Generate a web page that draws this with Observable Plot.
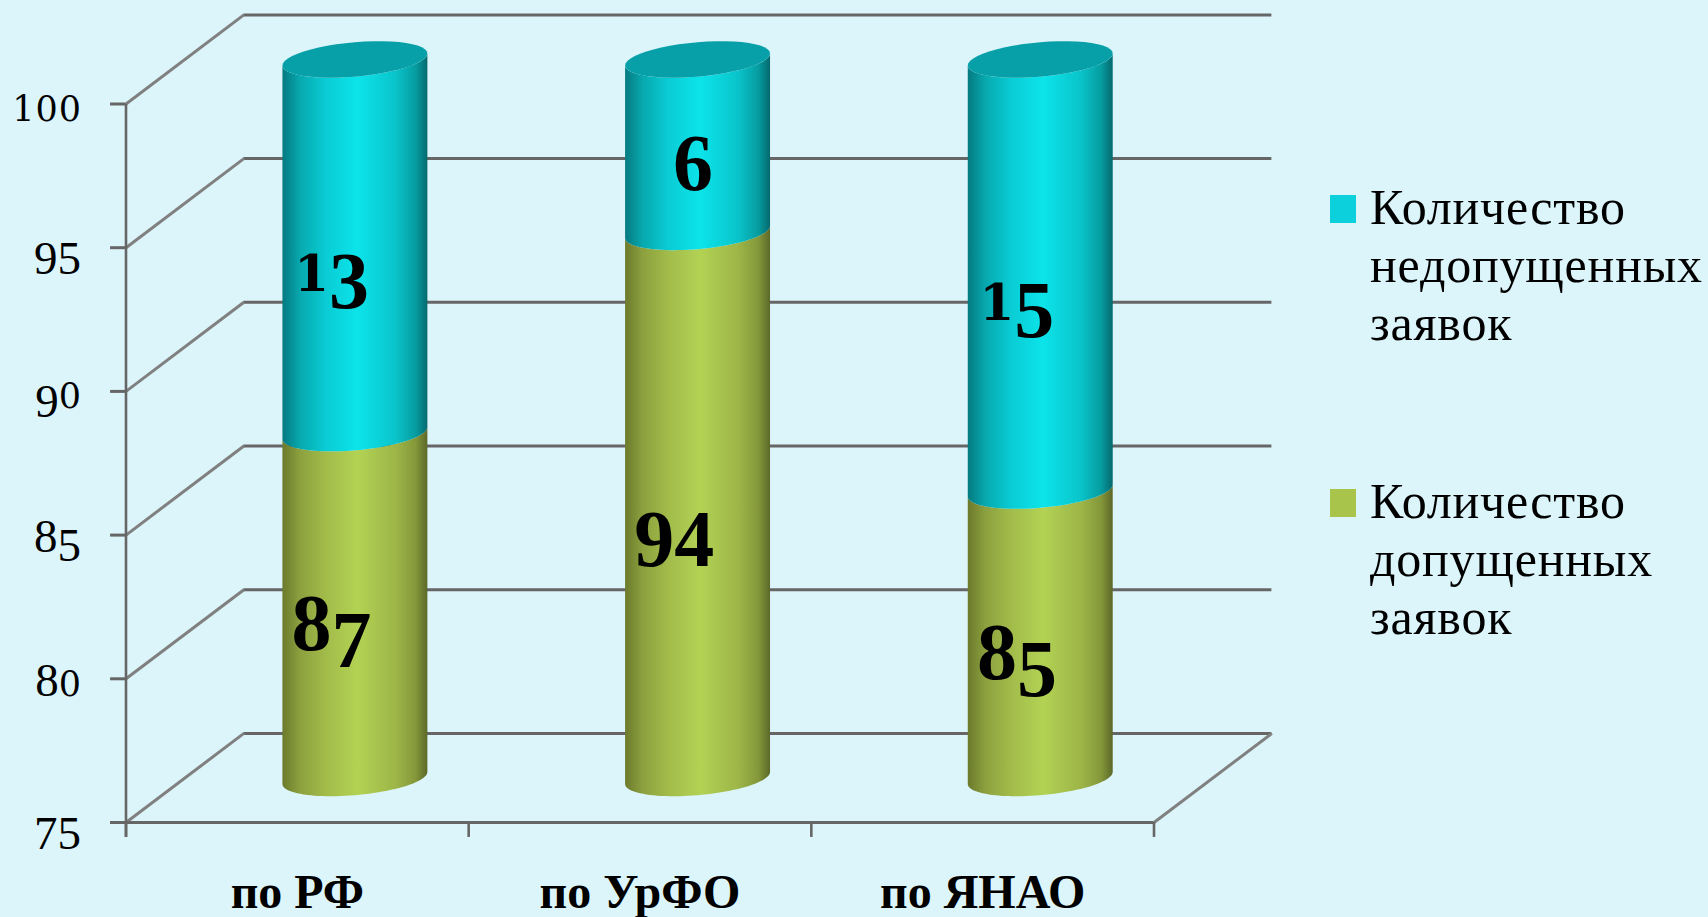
<!DOCTYPE html>
<html lang="ru">
<head>
<meta charset="utf-8">
<script src="https://cdn.jsdelivr.net/npm/d3@7"></script>
<script src="https://cdn.jsdelivr.net/npm/@observablehq/plot@0.6"></script>
<style>
  html, body { margin: 0; padding: 0; background: #dcf5fa; }
  #wrap { position: relative; width: 1708px; height: 917px; overflow: hidden; }
  #legend { position: absolute; left: 0; top: 0; font-family: "Liberation Serif", serif; color: #000; }
  .item { position: absolute; left: 1330px; }
  .sw { position: absolute; left: 0; width: 26px; height: 28px; }
  .tx { position: absolute; left: 40px; font-size: 50px; line-height: 58px; white-space: nowrap; letter-spacing: 0.8px; }
</style>
</head>
<body>
<div id="wrap">
  <div id="chart"></div>
  <div id="legend"></div>
</div>
<script>
const categories = ["по РФ", "по УрФО", "по ЯНАО"];
const admitted = [87, 94, 85];
const rejected = [13, 6, 15];
const yTicks = [75, 80, 85, 90, 95, 100];
const seriesNames = [
  ["Количество", "недопущенных", "заявок"],
  ["Количество", "допущенных", "заявок"]
];

// Oblique projection, expressed in scale units
const depthX = 0.344, depthY = 3.1;
const radius = 0.2115, tiltY = 0.21, capY = 0.6;
const base = 75, top100 = 100;
const tickX = -0.045, tickY = 74.48;

const cx = i => i + 0.496 + depthX / 2;
const cy = v => v + depthY / 2;
const steps = d3.range(0, 49).map(k => k / 48);
const pt = (i, v, t) => ({
  x: cx(i) + radius * Math.cos(t),
  y: cy(v) + tiltY * Math.cos(t) - capY * Math.sin(t)
});
const side = (i, lo, hi) => [
  ...steps.map(s => pt(i, lo, s * Math.PI)),
  ...steps.map(s => pt(i, hi, Math.PI - s * Math.PI))
];
const cap = i => steps.map(s => pt(i, top100, s * 2 * Math.PI));

const rows = categories.map((name, i) => ({name, i, a: admitted[i], r: rejected[i]}));
const labels = rows.flatMap(d => [
  {i: d.i, value: d.a, mid: (base + d.a) / 2},
  {i: d.i, value: d.r, mid: (d.a + top100) / 2}
]);

// Old-style figures: digits sit on, or hang below, the baseline
const digitKinds = {"0": "s", "1": "s", "2": "s", "3": "d", "4": "d", "5": "d", "7": "d", "9": "d", "6": "t", "8": "t"};
function oldStyle(smallFamily, smallSize, gap, drop) {
  return function(index, scales, values, dimensions, context, next) {
    const g = next(index, scales, values, dimensions, context);
    g.querySelectorAll("text").forEach(node => {
      const chars = [...node.textContent];
      node.textContent = "";
      let shift = 0;
      chars.forEach((c, n) => {
        const kind = digitKinds[c];
        const target = kind === "d" ? drop : 0;
        const span = document.createElementNS("http://www.w3.org/2000/svg", "tspan");
        span.textContent = c;
        span.setAttribute("dy", target - shift);
        shift = target;
        if (kind === "s") {
          span.setAttribute("font-size", smallSize);
          span.setAttribute("font-family", smallFamily);
          if (n < chars.length - 1) span.setAttribute("letter-spacing", gap);
        }
        node.appendChild(span);
      });
    });
    return g;
  };
}

const defs = () => {
  const svg = d3.create("svg:defs");
  const grad = (id, stops) => {
    const g = svg.append("linearGradient").attr("id", id).attr("x1", 0).attr("x2", 1).attr("y1", 0).attr("y2", 0);
    stops.forEach(([o, c]) => g.append("stop").attr("offset", o).attr("stop-color", c));
  };
  grad("cyl-cyan", [[0, "#047a80"], [0.12, "#07a8ae"], [0.3, "#0accd4"], [0.52, "#0ce4ea"], [0.78, "#09c4ca"], [0.92, "#069ca0"], [1, "#04696e"]]);
  grad("cyl-olive", [[0, "#6b7a2c"], [0.12, "#8ca03e"], [0.3, "#a2bc4a"], [0.52, "#b2d254"], [0.78, "#9db648"], [0.92, "#84973a"], [1, "#5c6828"]]);
  return svg.node();
};

const axisColor = "#666666", wallColor = "#808080";

const chart = Plot.plot({
  width: 1708,
  height: 917,
  margin: 0,
  style: {background: "transparent", overflow: "visible"},
  x: {domain: [0, 3], range: [125.5, 1153.5], axis: null},
  y: {domain: [base, top100], range: [822, 103.5], axis: null},
  marks: [
    defs,
    // back wall and side wall
    Plot.ruleY(yTicks, {y: d => d + depthY, x1: depthX, x2: 3 + depthX, stroke: axisColor, strokeWidth: 3}),
    Plot.link(yTicks, {x1: 0, x2: depthX, y1: d => d, y2: d => d + depthY, stroke: wallColor, strokeWidth: 3}),
    Plot.link([base], {x1: 3, x2: 3 + depthX, y1: d => d, y2: d => d + depthY, stroke: wallColor, strokeWidth: 3}),
    // axes
    Plot.ruleX([0], {y1: tickY, y2: top100, stroke: axisColor, strokeWidth: 2.6}),
    Plot.ruleY(yTicks, {x1: tickX, x2: 0, stroke: axisColor, strokeWidth: 3}),
    Plot.ruleY([base], {x1: tickX, x2: 3, stroke: axisColor, strokeWidth: 3}),
    Plot.ruleX([0, 1, 2, 3], {y1: tickY, y2: base, stroke: axisColor, strokeWidth: 2.6}),
    // cylinders
    ...rows.flatMap(d => [
      Plot.line(side(d.i, base, d.a), {x: "x", y: "y", fill: "url(#cyl-olive)", stroke: "none"}),
      Plot.line(side(d.i, d.a, top100), {x: "x", y: "y", fill: "url(#cyl-cyan)", stroke: "none"}),
      Plot.line(cap(d.i), {x: "x", y: "y", fill: "#08a0a8", stroke: "none"})
    ]),
    // value labels
    Plot.text(labels, {
      x: d => d.i + 0.6 + (d.value < 10 ? 0.055 : 0),
      y: "mid",
      text: d => String(d.value),
      lineAnchor: "bottom",
      textAnchor: "middle",
      fontFamily: "Liberation Serif",
      fontWeight: "bold",
      fontSize: 80,
      fill: "#000",
      render: oldStyle("DejaVu Serif", 50, 0, 17)
    }),
    // y labels
    Plot.text(yTicks, {
      x: 0,
      y: d => d,
      text: d => String(d),
      dx: -45,
      dy: 17,
      lineAnchor: "bottom",
      textAnchor: "end",
      fontFamily: "Liberation Serif",
      fontSize: 47,
      fill: "#000",
      render: oldStyle("DejaVu Serif", 35, 1, 9)
    }),
    // category labels
    Plot.text(rows, {
      x: d => d.i + 0.5,
      y: base,
      text: "name",
      dy: 85,
      lineAnchor: "bottom",
      textAnchor: "middle",
      fontFamily: "Liberation Serif",
      fontWeight: "bold",
      fontSize: 48,
      fill: "#000"
    })
  ]
});
document.getElementById("chart").appendChild(chart);

const swatches = ["#0cd0dc", "#a8c44a"];
const legendTop = [195, 489];
const legend = d3.select("#legend");
seriesNames.forEach((lines, k) => {
  const item = legend.append("div").attr("class", "item").style("top", legendTop[k] + "px");
  item.append("div").attr("class", "sw").style("background", swatches[k]);
  lines.forEach((t, j) => item.append("div").attr("class", "tx")
    .style("top", (-17 + j * 58) + "px").text(t));
});
</script>
</body>
</html>
